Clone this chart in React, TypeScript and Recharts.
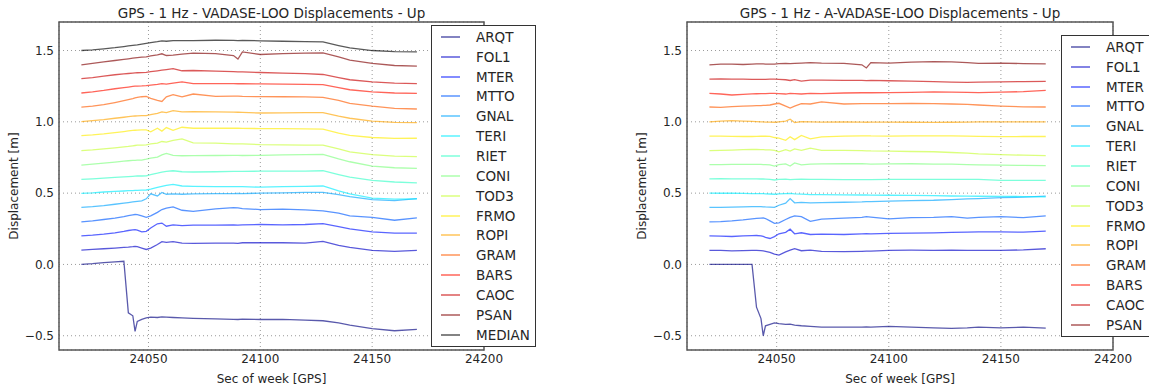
import React from 'react';
import { LineChart, Line, XAxis, YAxis, CartesianGrid, Legend, ReferenceArea } from 'recharts';

// sample times (sec of week)
const TIME = [24020, 24025, 24030, 24035, 24039, 24041, 24043, 24044, 24045, 24047, 24049, 24051, 24054, 24056, 24058, 24061, 24065, 24070, 24080, 24088, 24090, 24092, 24100, 24110, 24120, 24128, 24135, 24140, 24150, 24160, 24170];

const X_TICKS = [24050, 24100, 24150, 24200];
const Y_TICKS = [-0.5, 0, 0.5, 1.0, 1.5];

const STATIONS = ['ARQT', 'FOL1', 'MTER', 'MTTO', 'GNAL', 'TERI', 'RIET', 'CONI', 'TOD3', 'FRMO', 'ROPI', 'GRAM', 'BARS', 'CAOC', 'PSAN'];
const JET = ['#000080', '#0000c8', '#0012ff', '#005bff', '#00a4ff', '#00edff', '#37ffc8', '#80ff80', '#c8ff37', '#ffed00', '#ffa400', '#ff5b00', '#ff1200', '#c80000', '#800000'];
const LEGEND_ORDER = [...STATIONS, 'MEDIAN'];

// VADASE-LOO (left)
const vARQT = [0.000, 0.005, 0.012, 0.018, 0.022, -0.340, -0.360, -0.470, -0.400, -0.385, -0.375, -0.370, -0.372, -0.368, -0.370, -0.372, -0.375, -0.378, -0.382, -0.385, -0.386, -0.384, -0.386, -0.385, -0.390, -0.395, -0.410, -0.425, -0.450, -0.465, -0.455];
const vFOL1 = [0.100, 0.105, 0.110, 0.115, 0.120, 0.122, 0.125, 0.127, 0.125, 0.115, 0.105, 0.115, 0.140, 0.160, 0.155, 0.160, 0.150, 0.148, 0.150, 0.150, 0.148, 0.152, 0.152, 0.152, 0.150, 0.162, 0.134, 0.120, 0.098, 0.092, 0.099];
const vMTER = [0.200, 0.205, 0.212, 0.222, 0.232, 0.238, 0.242, 0.244, 0.240, 0.228, 0.232, 0.255, 0.285, 0.290, 0.268, 0.278, 0.272, 0.275, 0.275, 0.278, 0.276, 0.278, 0.280, 0.278, 0.280, 0.286, 0.265, 0.250, 0.228, 0.220, 0.220];
const vMTTO = [0.298, 0.305, 0.315, 0.325, 0.335, 0.342, 0.348, 0.350, 0.349, 0.340, 0.330, 0.340, 0.365, 0.385, 0.395, 0.404, 0.380, 0.372, 0.390, 0.398, 0.396, 0.392, 0.385, 0.388, 0.382, 0.376, 0.360, 0.340, 0.330, 0.310, 0.326];
const vGNAL = [0.400, 0.405, 0.412, 0.422, 0.430, 0.434, 0.438, 0.440, 0.442, 0.446, 0.460, 0.495, 0.480, 0.505, 0.492, 0.495, 0.492, 0.495, 0.496, 0.497, 0.498, 0.497, 0.500, 0.502, 0.505, 0.505, 0.490, 0.475, 0.455, 0.448, 0.462];
const vTERI = [0.498, 0.502, 0.508, 0.512, 0.515, 0.517, 0.518, 0.519, 0.520, 0.521, 0.522, 0.528, 0.540, 0.548, 0.555, 0.562, 0.550, 0.548, 0.546, 0.545, 0.546, 0.545, 0.542, 0.545, 0.548, 0.550, 0.515, 0.495, 0.465, 0.458, 0.460];
const vRIET = [0.596, 0.600, 0.605, 0.610, 0.614, 0.616, 0.618, 0.619, 0.620, 0.620, 0.621, 0.630, 0.640, 0.648, 0.652, 0.657, 0.650, 0.648, 0.650, 0.652, 0.652, 0.652, 0.654, 0.654, 0.655, 0.657, 0.630, 0.612, 0.590, 0.578, 0.572];
const vCONI = [0.697, 0.703, 0.710, 0.718, 0.724, 0.727, 0.729, 0.730, 0.731, 0.732, 0.738, 0.745, 0.752, 0.768, 0.779, 0.765, 0.762, 0.763, 0.764, 0.765, 0.765, 0.764, 0.765, 0.768, 0.770, 0.772, 0.740, 0.720, 0.690, 0.678, 0.674];
const vTOD3 = [0.798, 0.803, 0.810, 0.818, 0.825, 0.828, 0.832, 0.834, 0.836, 0.837, 0.838, 0.845, 0.850, 0.862, 0.858, 0.870, 0.880, 0.852, 0.850, 0.846, 0.845, 0.846, 0.840, 0.838, 0.836, 0.836, 0.810, 0.790, 0.770, 0.760, 0.756];
const vFRMO = [0.903, 0.908, 0.915, 0.925, 0.932, 0.936, 0.940, 0.941, 0.942, 0.943, 0.944, 0.930, 0.955, 0.935, 0.960, 0.940, 0.962, 0.955, 0.955, 0.956, 0.955, 0.954, 0.953, 0.952, 0.950, 0.949, 0.920, 0.905, 0.890, 0.884, 0.885];
const vROPI = [1.002, 1.008, 1.015, 1.025, 1.032, 1.036, 1.040, 1.041, 1.042, 1.043, 1.044, 1.050, 1.060, 1.070, 1.064, 1.078, 1.070, 1.072, 1.070, 1.068, 1.067, 1.066, 1.062, 1.063, 1.064, 1.065, 1.040, 1.025, 1.005, 0.996, 0.995];
const vGRAM = [1.103, 1.110, 1.120, 1.135, 1.148, 1.155, 1.162, 1.168, 1.172, 1.176, 1.178, 1.165, 1.150, 1.143, 1.175, 1.190, 1.175, 1.195, 1.178, 1.180, 1.180, 1.178, 1.177, 1.176, 1.175, 1.172, 1.150, 1.130, 1.110, 1.095, 1.090];
const vBARS = [1.202, 1.210, 1.220, 1.232, 1.240, 1.244, 1.248, 1.250, 1.251, 1.252, 1.254, 1.258, 1.262, 1.268, 1.265, 1.272, 1.280, 1.268, 1.268, 1.268, 1.267, 1.268, 1.266, 1.265, 1.263, 1.261, 1.240, 1.225, 1.210, 1.202, 1.200];
const vCAOC = [1.303, 1.310, 1.320, 1.330, 1.336, 1.339, 1.342, 1.343, 1.344, 1.345, 1.347, 1.352, 1.358, 1.362, 1.366, 1.373, 1.358, 1.360, 1.356, 1.352, 1.350, 1.350, 1.346, 1.342, 1.338, 1.332, 1.310, 1.295, 1.280, 1.272, 1.268];
const vPSAN = [1.400, 1.410, 1.420, 1.430, 1.438, 1.442, 1.446, 1.448, 1.450, 1.453, 1.456, 1.462, 1.470, 1.477, 1.465, 1.468, 1.475, 1.482, 1.478, 1.465, 1.440, 1.490, 1.472, 1.478, 1.482, 1.484, 1.455, 1.432, 1.410, 1.395, 1.390];
const vMEDIAN = [1.500, 1.505, 1.512, 1.520, 1.528, 1.532, 1.536, 1.538, 1.540, 1.545, 1.550, 1.555, 1.562, 1.568, 1.565, 1.570, 1.570, 1.570, 1.572, 1.571, 1.570, 1.571, 1.568, 1.565, 1.562, 1.560, 1.535, 1.518, 1.500, 1.492, 1.490];

// A-VADASE-LOO (right)
const aARQT = [0.000, 0.001, 0.000, 0.001, 0.000, -0.300, -0.380, -0.500, -0.430, -0.420, -0.410, -0.415, -0.420, -0.418, -0.425, -0.430, -0.435, -0.440, -0.440, -0.440, -0.438, -0.440, -0.435, -0.440, -0.445, -0.448, -0.445, -0.440, -0.445, -0.440, -0.446];
const aFOL1 = [0.099, 0.098, 0.095, 0.097, 0.098, 0.098, 0.097, 0.095, 0.092, 0.085, 0.072, 0.066, 0.088, 0.100, 0.110, 0.096, 0.100, 0.092, 0.090, 0.092, 0.093, 0.094, 0.098, 0.100, 0.099, 0.100, 0.098, 0.099, 0.099, 0.102, 0.110];
const aMTER = [0.200, 0.198, 0.196, 0.200, 0.202, 0.203, 0.200, 0.196, 0.190, 0.182, 0.195, 0.215, 0.225, 0.247, 0.215, 0.222, 0.210, 0.212, 0.210, 0.214, 0.215, 0.214, 0.218, 0.220, 0.222, 0.225, 0.226, 0.228, 0.228, 0.226, 0.233];
const aMTTO = [0.298, 0.300, 0.305, 0.312, 0.320, 0.323, 0.325, 0.326, 0.322, 0.305, 0.288, 0.292, 0.315, 0.330, 0.340, 0.335, 0.302, 0.318, 0.325, 0.330, 0.335, 0.332, 0.320, 0.328, 0.330, 0.335, 0.325, 0.330, 0.335, 0.328, 0.340];
const aGNAL = [0.400, 0.400, 0.402, 0.404, 0.406, 0.406, 0.405, 0.404, 0.403, 0.402, 0.400, 0.415, 0.430, 0.462, 0.432, 0.435, 0.432, 0.433, 0.436, 0.438, 0.440, 0.440, 0.444, 0.448, 0.450, 0.455, 0.460, 0.462, 0.468, 0.472, 0.479];
const aTERI = [0.500, 0.499, 0.500, 0.498, 0.497, 0.497, 0.496, 0.496, 0.495, 0.494, 0.492, 0.495, 0.497, 0.498, 0.495, 0.493, 0.490, 0.490, 0.488, 0.487, 0.487, 0.486, 0.485, 0.484, 0.482, 0.480, 0.479, 0.478, 0.477, 0.476, 0.474];
const aRIET = [0.600, 0.601, 0.600, 0.600, 0.600, 0.600, 0.599, 0.599, 0.598, 0.596, 0.592, 0.596, 0.598, 0.595, 0.597, 0.598, 0.596, 0.596, 0.594, 0.595, 0.595, 0.595, 0.596, 0.596, 0.597, 0.597, 0.596, 0.596, 0.590, 0.590, 0.590];
const aCONI = [0.700, 0.700, 0.701, 0.702, 0.702, 0.702, 0.701, 0.700, 0.700, 0.698, 0.690, 0.700, 0.705, 0.690, 0.712, 0.698, 0.704, 0.705, 0.706, 0.706, 0.705, 0.704, 0.705, 0.706, 0.704, 0.703, 0.700, 0.698, 0.696, 0.694, 0.693];
const aTOD3 = [0.798, 0.800, 0.802, 0.805, 0.806, 0.806, 0.805, 0.805, 0.804, 0.803, 0.800, 0.790, 0.805, 0.795, 0.810, 0.800, 0.815, 0.800, 0.800, 0.798, 0.797, 0.796, 0.795, 0.792, 0.790, 0.785, 0.780, 0.775, 0.770, 0.766, 0.763];
const aFRMO = [0.900, 0.900, 0.898, 0.897, 0.897, 0.898, 0.899, 0.899, 0.900, 0.898, 0.890, 0.885, 0.870, 0.895, 0.875, 0.905, 0.880, 0.895, 0.900, 0.902, 0.902, 0.901, 0.900, 0.901, 0.902, 0.902, 0.900, 0.898, 0.896, 0.897, 0.897];
const aROPI = [1.000, 1.005, 1.008, 1.005, 1.003, 1.002, 1.000, 1.000, 0.998, 0.998, 0.997, 1.000, 1.005, 1.018, 0.995, 1.002, 1.000, 0.998, 1.000, 0.998, 0.997, 0.998, 0.998, 0.997, 0.996, 0.997, 0.998, 1.000, 1.000, 0.999, 1.000];
const aGRAM = [1.104, 1.102, 1.106, 1.110, 1.112, 1.113, 1.114, 1.115, 1.116, 1.118, 1.125, 1.130, 1.110, 1.097, 1.110, 1.128, 1.125, 1.140, 1.125, 1.128, 1.128, 1.127, 1.128, 1.130, 1.128, 1.125, 1.122, 1.118, 1.110, 1.105, 1.104];
const aBARS = [1.200, 1.195, 1.188, 1.192, 1.196, 1.197, 1.198, 1.198, 1.198, 1.199, 1.200, 1.198, 1.195, 1.200, 1.198, 1.195, 1.200, 1.198, 1.202, 1.204, 1.205, 1.204, 1.205, 1.207, 1.210, 1.208, 1.206, 1.205, 1.208, 1.212, 1.220];
const aCAOC = [1.300, 1.301, 1.300, 1.299, 1.298, 1.298, 1.297, 1.297, 1.298, 1.299, 1.300, 1.298, 1.295, 1.290, 1.296, 1.285, 1.292, 1.292, 1.290, 1.290, 1.289, 1.290, 1.288, 1.286, 1.282, 1.278, 1.276, 1.278, 1.280, 1.282, 1.284];
const aPSAN = [1.400, 1.405, 1.404, 1.402, 1.405, 1.406, 1.406, 1.406, 1.405, 1.404, 1.405, 1.408, 1.410, 1.408, 1.410, 1.412, 1.415, 1.412, 1.410, 1.400, 1.378, 1.415, 1.412, 1.418, 1.422, 1.420, 1.415, 1.410, 1.412, 1.408, 1.406];

const VADASE = [vARQT, vFOL1, vMTER, vMTTO, vGNAL, vTERI, vRIET, vCONI, vTOD3, vFRMO, vROPI, vGRAM, vBARS, vCAOC, vPSAN];
const AVADASE = [aARQT, aFOL1, aMTER, aMTTO, aGNAL, aTERI, aRIET, aCONI, aTOD3, aFRMO, aROPI, aGRAM, aBARS, aCAOC, aPSAN];

const FONT = '"DejaVu Sans", sans-serif';
const TEXT = '#262626';
const LINE_OPACITY = 0.65;

function buildRows(series: number[][], median?: number[]) {
    return TIME.map((t, i) => {
        const row: Record<string, number> = { t };
        STATIONS.forEach((s, k) => { row[s] = series[k][i]; });
        if (median) row.MEDIAN = median[i];
        return row;
    });
}

const fmtY = (v: number) => (v < 0 ? '\u2212' + Math.abs(v).toFixed(1) : v.toFixed(1));

function LegendBox(props: any) {
    // keep the plotting order, not alphabetical
    const items = [...(props.payload || [])].sort(
        (a: any, b: any) => LEGEND_ORDER.indexOf(a.value) - LEGEND_ORDER.indexOf(b.value)
    );
    return (
        <div style={{
            border: '1px solid #333', background: '#fff', boxSizing: 'border-box',
            width: '100%', height: '100%', paddingTop: 1, fontFamily: FONT, fontSize: 13.5, color: TEXT,
        }}>
            {items.map((it: any) => (
                <div key={it.value} style={{ height: 19.85, display: 'flex', alignItems: 'center' }}>
                    <svg width={44} height={6} style={{ flex: 'none' }}>
                        <line x1={9} x2={28} y1={3} y2={3} stroke={it.color} strokeOpacity={LINE_OPACITY} strokeWidth={1.5} />
                    </svg>
                    <span>{it.value}</span>
                </div>
            ))}
        </div>
    );
}

interface PanelProps {
    title: string;
    rows: Record<string, number>[];
    withMedian: boolean;
    left: number;
    width: number;
    rightMargin: number;
    legend: { left: number; top: number; width: number; height: number };
}

function Panel({ title, rows, withMedian, left, width, rightMargin, legend }: PanelProps) {
    const plotLeft = 59;
    const plotRight = width - rightMargin;
    return (
        <div style={{ position: 'absolute', left, top: 0, width, height: 389 }}>
            <div style={{
                position: 'absolute', top: 5, left: (plotLeft + plotRight) / 2, transform: 'translateX(-50%)',
                whiteSpace: 'nowrap', fontFamily: FONT, fontSize: 13.5, lineHeight: '16px', color: TEXT,
            }}>{title}</div>
            <LineChart width={width} height={389} data={rows} margin={{ top: 22, right: rightMargin, bottom: 0, left: 0 }}>
                <CartesianGrid stroke="#9a9a9a" strokeDasharray="1 3" />
                <XAxis
                    dataKey="t" type="number" domain={[24010, 24200]} ticks={X_TICKS} height={39}
                    tickLine={false} axisLine={false} tickSize={0} tickMargin={4}
                    tick={{ fontFamily: FONT, fontSize: 12, fill: TEXT }}
                    label={{ value: 'Sec of week [GPS]', position: 'insideBottom', offset: 6, style: { fontFamily: FONT, fontSize: 12, fill: TEXT } }}
                />
                <YAxis
                    type="number" domain={[-0.6, 1.7]} ticks={Y_TICKS} width={59} tickFormatter={fmtY}
                    tickLine={false} axisLine={false} tickSize={0} tickMargin={5}
                    tick={{ fontFamily: FONT, fontSize: 12, fill: TEXT }}
                    label={{ value: 'Displacement [m]', angle: -90, position: 'insideLeft', offset: 14, style: { textAnchor: 'middle', fontFamily: FONT, fontSize: 12, fill: TEXT } }}
                />
                {STATIONS.map((s, k) => (
                    <Line key={s} dataKey={s} name={s} stroke={JET[k]} strokeOpacity={LINE_OPACITY} strokeWidth={1.3}
                        dot={false} activeDot={false} isAnimationActive={false} />
                ))}
                {withMedian && (
                    <Line dataKey="MEDIAN" name="MEDIAN" stroke="#000" strokeOpacity={LINE_OPACITY} strokeWidth={1.3}
                        dot={false} activeDot={false} isAnimationActive={false} />
                )}
                <ReferenceArea x1={24010} x2={24200} y1={-0.6} y2={1.7} fill="none" fillOpacity={0} stroke="#555" strokeWidth={1.5} />
                <Legend
                    layout="vertical" align="center" verticalAlign="middle" content={<LegendBox />}
                    wrapperStyle={{ left: legend.left, top: legend.top, width: legend.width, height: legend.height }}
                />
            </LineChart>
        </div>
    );
}

export default function App() {
    const leftRows = buildRows(VADASE, vMEDIAN);
    const rightRows = buildRows(AVADASE);
    return (
        <div style={{ position: 'absolute', left: 0, top: 0, width: 1149, height: 389, overflow: 'hidden', background: '#fff' }}>
            <Panel
                title="GPS - 1 Hz - VADASE-LOO Displacements - Up" rows={leftRows} withMedian
                left={0} width={560} rightMargin={76}
                legend={{ left: 431, top: 25, width: 105, height: 322 }}
            />
            <Panel
                title="GPS - 1 Hz - A-VADASE-LOO Displacements - Up" rows={rightRows} withMedian={false}
                left={628} width={521} rightMargin={36}
                legend={{ left: 433, top: 35, width: 105, height: 302 }}
            />
        </div>
    );
}
